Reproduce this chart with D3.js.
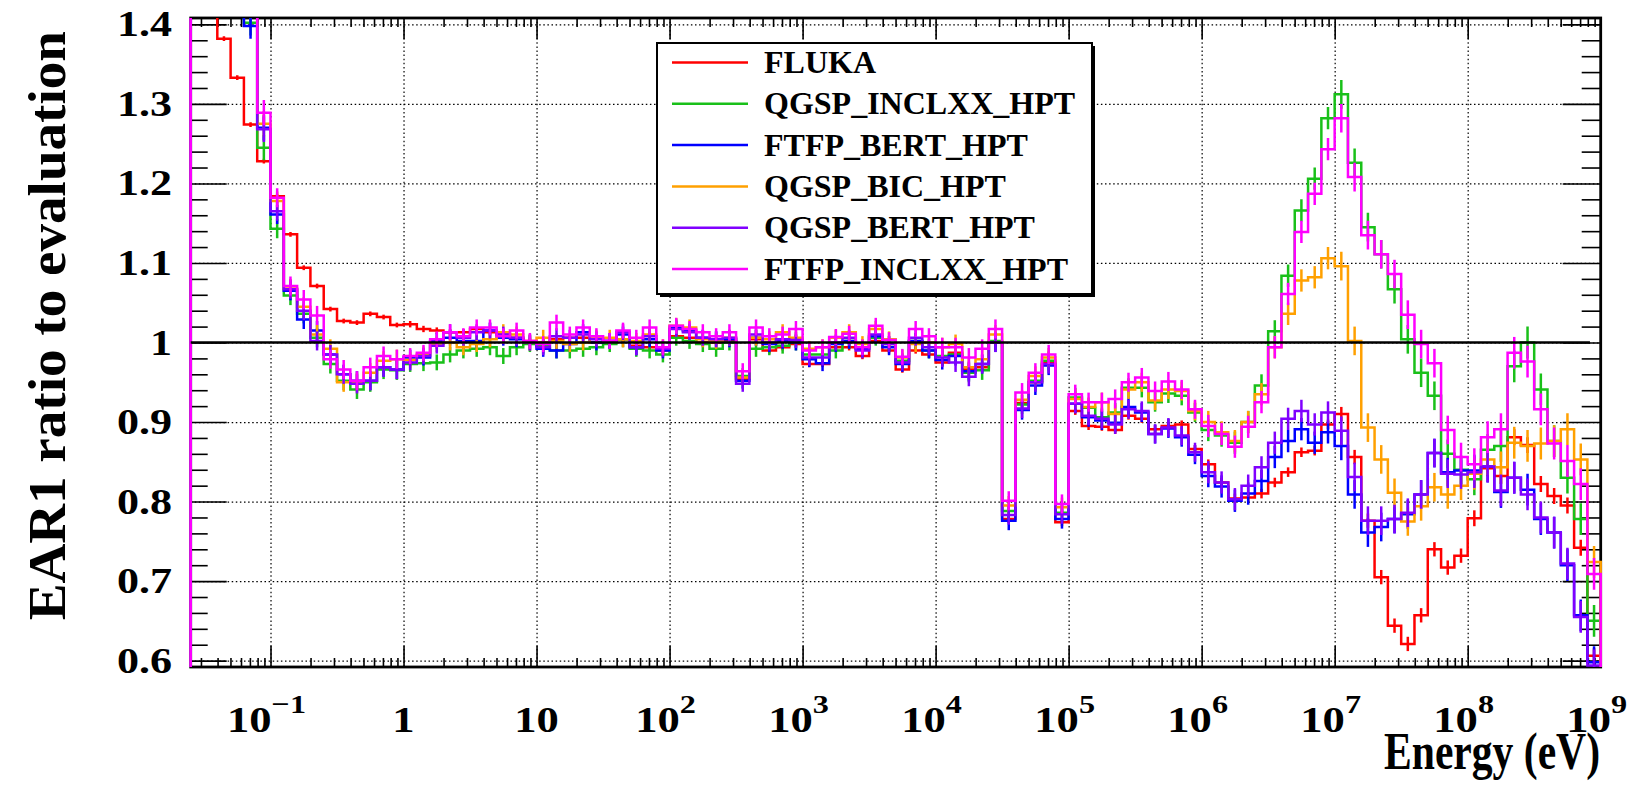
<!DOCTYPE html>
<html>
<head>
<meta charset="utf-8">
<script src="https://cdn.jsdelivr.net/npm/d3@7"></script>
<style>
  body { margin: 0; background: #fff; }
  svg text { font-family: "Liberation Serif", "Times New Roman", serif; font-weight: bold; fill: #000; }
</style>
</head>
<body>
<div id="chart"></div>
<script>
// ---- Data (ratio to evaluation, 10 log bins per decade from 10^-1.6 eV to 10^9 eV) ----
const firstEdgeLog = -1.6
const binsPerDecade = 10
const nBins = 106

// one line per decade: bins -1.6..-1.0, -1.0..0, 0..1, ... 8..9
const fluka = [
  1.45, 1.42, 1.382, 1.333, 1.274, 1.228,
  1.184, 1.136, 1.094, 1.071, 1.042, 1.027, 1.025, 1.036, 1.032, 1.022,
  1.023, 1.017, 1.015, 1.013, 1.013, 1.017, 1.013, 1.010, 1.006, 1.002,
  1.000, 1.004, 1.006, 1.006, 1.000, 1.002, 1.004, 0.996, 0.994, 0.990,
  1.008, 1.006, 1.000, 1.000, 1.002, 0.954, 1.004, 0.990, 0.994, 0.998,
  0.973, 0.973, 0.994, 0.994, 0.983, 1.002, 0.990, 0.966, 0.990, 0.985,
  0.975, 0.987, 0.966, 0.969, 1.000, 0.778, 0.924, 0.950, 0.975, 0.774,
  0.914, 0.895, 0.894, 0.890, 0.908, 0.904, 0.891, 0.895, 0.897, 0.866,
  0.847, 0.824, 0.804, 0.805, 0.810, 0.824, 0.837, 0.862, 0.864, 0.897,
  0.910, 0.856, 0.776, 0.705, 0.644, 0.621, 0.657, 0.740, 0.717, 0.732,
  0.779, 0.842, 0.832, 0.881, 0.871, 0.822, 0.807, 0.795, 0.742, 0.606
]
const qgspInclxx = [
  1.45, 1.45, 1.45, 1.45, 1.402, 1.245,
  1.143, 1.059, 1.036, 1.006, 0.973, 0.952, 0.941, 0.950, 0.966, 0.965,
  0.973, 0.974, 0.975, 0.985, 0.990, 0.992, 0.994, 0.983, 0.994, 0.998,
  0.996, 0.990, 0.990, 0.992, 0.994, 0.998, 1.004, 0.992, 0.990, 0.985,
  1.006, 1.002, 0.998, 0.992, 1.000, 0.958, 0.992, 0.994, 0.996, 1.000,
  0.985, 0.985, 0.990, 1.002, 0.994, 1.006, 0.998, 0.977, 1.002, 0.990,
  0.983, 0.985, 0.962, 0.965, 1.002, 0.788, 0.922, 0.952, 0.977, 0.786,
  0.931, 0.918, 0.906, 0.912, 0.943, 0.943, 0.925, 0.936, 0.933, 0.912,
  0.890, 0.883, 0.874, 0.900, 0.946, 1.014, 1.084, 1.166, 1.206, 1.282,
  1.312, 1.226, 1.145, 1.111, 1.067, 1.004, 0.962, 0.933, 0.860, 0.840,
  0.828, 0.865, 0.870, 0.970, 1.000, 0.941, 0.876, 0.830, 0.778, 0.650
]
const ftfpBert = [
  1.45, 1.45, 1.45, 1.45, 1.398, 1.270,
  1.161, 1.065, 1.029, 1.015, 0.985, 0.960, 0.952, 0.952, 0.969, 0.966,
  0.981, 0.981, 1.002, 1.006, 1.002, 1.002, 1.015, 1.006, 1.004, 1.000,
  0.992, 0.990, 0.998, 1.013, 1.000, 1.002, 1.010, 0.994, 1.004, 0.990,
  1.019, 1.015, 1.006, 1.004, 1.004, 0.952, 1.006, 0.998, 1.002, 1.000,
  0.979, 0.974, 0.998, 1.002, 0.992, 1.008, 0.994, 0.973, 1.002, 0.990,
  0.978, 0.983, 0.964, 0.973, 1.000, 0.776, 0.915, 0.946, 0.971, 0.778,
  0.923, 0.906, 0.902, 0.899, 0.919, 0.912, 0.885, 0.892, 0.881, 0.859,
  0.832, 0.819, 0.801, 0.810, 0.826, 0.856, 0.876, 0.891, 0.874, 0.887,
  0.870, 0.809, 0.761, 0.768, 0.778, 0.784, 0.809, 0.861, 0.837, 0.839,
  0.839, 0.844, 0.812, 0.830, 0.815, 0.778, 0.761, 0.720, 0.657, 0.598
]
const qgspBic = [
  1.45, 1.45, 1.45, 1.45, 1.45, 1.275,
  1.178, 1.068, 1.045, 1.010, 0.992, 0.950, 0.950, 0.962, 0.977, 0.979,
  0.978, 0.985, 0.998, 1.000, 0.994, 0.998, 1.004, 1.013, 1.010, 1.000,
  1.006, 1.002, 0.998, 1.000, 1.006, 1.006, 1.004, 1.002, 1.010, 0.994,
  1.021, 1.019, 1.004, 1.002, 1.006, 0.956, 1.006, 1.004, 1.013, 1.006,
  0.992, 0.994, 1.006, 1.013, 0.998, 1.017, 1.004, 0.981, 0.998, 1.000,
  0.994, 0.998, 0.969, 0.979, 1.010, 0.795, 0.928, 0.958, 0.981, 0.793,
  0.929, 0.919, 0.925, 0.910, 0.941, 0.950, 0.927, 0.941, 0.939, 0.914,
  0.900, 0.887, 0.876, 0.900, 0.935, 0.994, 1.036, 1.078, 1.082, 1.106,
  1.096, 1.002, 0.893, 0.853, 0.811, 0.775, 0.794, 0.818, 0.809, 0.820,
  0.835, 0.853, 0.843, 0.874, 0.870, 0.873, 0.876, 0.891, 0.853, 0.724
]
const qgspBert = [
  1.45, 1.45, 1.45, 1.45, 1.45, 1.268,
  1.165, 1.067, 1.040, 1.002, 0.985, 0.960, 0.948, 0.952, 0.969, 0.966,
  0.975, 0.983, 0.996, 1.013, 1.006, 1.013, 1.015, 1.010, 1.006, 1.000,
  0.994, 1.008, 1.006, 1.010, 1.004, 1.002, 1.013, 0.994, 1.008, 0.992,
  1.017, 1.013, 1.006, 1.004, 1.006, 0.948, 1.010, 1.000, 1.004, 1.003,
  0.981, 0.981, 1.000, 1.006, 0.990, 1.010, 0.998, 0.975, 1.006, 0.994,
  0.981, 0.975, 0.957, 0.973, 1.000, 0.783, 0.917, 0.950, 0.973, 0.784,
  0.923, 0.908, 0.904, 0.897, 0.916, 0.914, 0.885, 0.893, 0.883, 0.862,
  0.837, 0.824, 0.803, 0.820, 0.843, 0.874, 0.904, 0.914, 0.897, 0.912,
  0.889, 0.831, 0.776, 0.776, 0.778, 0.786, 0.809, 0.861, 0.835, 0.834,
  0.837, 0.844, 0.814, 0.830, 0.809, 0.780, 0.761, 0.722, 0.655, 0.594
]
const ftfpInclxx = [
  1.45, 1.45, 1.45, 1.45, 1.45, 1.289,
  1.182, 1.071, 1.054, 1.034, 0.979, 0.966, 0.952, 0.969, 0.983, 0.979,
  0.983, 0.987, 1.004, 1.013, 1.008, 1.019, 1.019, 1.008, 1.015, 1.002,
  0.998, 1.025, 1.010, 1.019, 1.008, 1.002, 1.015, 1.006, 1.019, 0.994,
  1.021, 1.017, 1.013, 1.008, 1.013, 0.964, 1.019, 1.008, 1.010, 1.017,
  0.990, 0.994, 1.007, 1.011, 0.994, 1.021, 1.003, 0.982, 1.017, 1.008,
  0.994, 0.994, 0.981, 0.992, 1.017, 0.801, 0.937, 0.962, 0.985, 0.797,
  0.935, 0.925, 0.925, 0.929, 0.950, 0.956, 0.939, 0.951, 0.941, 0.916,
  0.895, 0.885, 0.869, 0.894, 0.925, 0.994, 1.061, 1.139, 1.187, 1.243,
  1.282, 1.208, 1.135, 1.111, 1.086, 1.035, 0.998, 0.974, 0.890, 0.856,
  0.847, 0.881, 0.891, 0.987, 0.976, 0.916, 0.873, 0.851, 0.822, 0.709
]

// half-size of the error bars, one value per decade (10^-2 .. 10^8)
const errFlukaByDecade = [0.003, 0.003, 0.004, 0.004, 0.004, 0.004, 0.005, 0.005, 0.006, 0.009, 0.010]
const errG4ByDecade = [0.016, 0.012, 0.010, 0.010, 0.010, 0.010, 0.012, 0.012, 0.014, 0.018, 0.020]

const seriesNames = ['FLUKA', 'QGSP_INCLXX_HPT', 'FTFP_BERT_HPT', 'QGSP_BIC_HPT', 'QGSP_BERT_HPT', 'FTFP_INCLXX_HPT']
const seriesColors = ['#ff0000', '#19c019', '#0000ff', '#ffa000', '#8000ff', '#ff00ff']
const seriesValues = [fluka, qgspInclxx, ftfpBert, qgspBic, qgspBert, ftfpInclxx]

const yTicks = [0.6, 0.7, 0.8, 0.9, 1, 1.1, 1.2, 1.3, 1.4]
const yTickLabels = ['0.6', '0.7', '0.8', '0.9', '1', '1.1', '1.2', '1.3', '1.4']
const xDecades = [-1, 0, 1, 2, 3, 4, 5, 6, 7, 8, 9]

// ---- Layout ----
const width = 1631, height = 788
const frame = { left: 190.7, right: 1600.7, top: 18, bottom: 667 }

const svg = d3.select('#chart').append('svg')
  .attr('width', width).attr('height', height)

const x = d3.scaleLog()
  .domain([Math.pow(10, firstEdgeLog), 1e9])
  .range([frame.left, frame.right])
const y = d3.scaleLinear()
  .domain([0.592, 1.408])
  .range([frame.bottom, frame.top])

const edge = i => Math.pow(10, firstEdgeLog + i / binsPerDecade)
const center = i => Math.pow(10, firstEdgeLog + (i + 0.5) / binsPerDecade)
const decadeIdx = i => Math.floor(firstEdgeLog + i / binsPerDecade + 1e-9) + 2

// grid (dotted)
const grid = svg.append('g').attr('class', 'grid')
grid.append('g')
  .attr('transform', `translate(0,${frame.bottom})`)
  .call(d3.axisBottom(x).tickValues(xDecades.slice(0, -1).map(d => Math.pow(10, d)))
    .tickSize(-(frame.bottom - frame.top)).tickFormat(''))
grid.append('g')
  .attr('transform', `translate(${frame.left},0)`)
  .call(d3.axisLeft(y).tickValues(yTicks)
    .tickSize(-(frame.right - frame.left)).tickFormat(''))
grid.selectAll('.domain').remove()
grid.selectAll('line')
  .attr('stroke', '#000').attr('stroke-width', 1.2)
  .attr('stroke-dasharray', '1.5,2.6')

// tick marks on all four sides, pointing inward
const minorX = []
d3.range(-2, 9).forEach(d => d3.range(2, 10).forEach(m => {
  const v = m * Math.pow(10, d)
  if (v > x.domain()[0] && v < x.domain()[1]) minorX.push(v)
}))
const majorX = xDecades.map(d => Math.pow(10, d)).filter(v => v < 1e9)
const minorY = d3.range(0.6, 1.4001, 0.02).filter(v => Math.abs(v * 10 - Math.round(v * 10)) > 1e-6)

const ticks = svg.append('g').attr('class', 'ticks')
function tickGroup(axis, tx, ty) {
  ticks.append('g').attr('transform', `translate(${tx},${ty})`).call(axis)
}
tickGroup(d3.axisBottom(x).tickValues(majorX).tickSize(-21).tickFormat(''), 0, frame.bottom)
tickGroup(d3.axisBottom(x).tickValues(minorX).tickSize(-9).tickFormat(''), 0, frame.bottom)
tickGroup(d3.axisTop(x).tickValues(majorX).tickSize(-21).tickFormat(''), 0, frame.top)
tickGroup(d3.axisTop(x).tickValues(minorX).tickSize(-9).tickFormat(''), 0, frame.top)
tickGroup(d3.axisLeft(y).tickValues(yTicks).tickSize(-36).tickFormat(''), frame.left, 0)
tickGroup(d3.axisLeft(y).tickValues(minorY).tickSize(-17).tickFormat(''), frame.left, 0)
tickGroup(d3.axisRight(y).tickValues(yTicks).tickSize(-38).tickFormat(''), frame.right, 0)
tickGroup(d3.axisRight(y).tickValues(minorY).tickSize(-19).tickFormat(''), frame.right, 0)
ticks.selectAll('.domain').remove()
ticks.selectAll('line').attr('stroke', '#000').attr('stroke-width', 1.6)

// frame
svg.append('rect')
  .attr('x', frame.left).attr('y', frame.top)
  .attr('width', frame.right - frame.left).attr('height', frame.bottom - frame.top)
  .attr('fill', 'none').attr('stroke', '#000').attr('stroke-width', 2.8)

// histograms
svg.append('clipPath').attr('id', 'clip')
  .append('rect')
  .attr('x', frame.left - 3).attr('y', frame.top)
  .attr('width', frame.right - frame.left + 6).attr('height', frame.bottom - frame.top)

const plot = svg.append('g').attr('clip-path', 'url(#clip)')
const line = d3.line().x(d => x(d[0])).y(d => y(d[1]))
const baseline = 0

seriesValues.forEach((vals, s) => {
  const pts = [[edge(0), baseline]]
  vals.forEach((v, i) => { pts.push([edge(i), v]); pts.push([edge(i + 1), v]) })
  pts.push([edge(nBins), baseline])
  const g = plot.append('g')
  g.append('path')
    .datum(pts)
    .attr('d', line)
    .attr('fill', 'none')
    .attr('stroke', seriesColors[s])
    .attr('stroke-width', 2.5)
    .attr('stroke-linejoin', 'miter')
  const errs = s === 0 ? errFlukaByDecade : errG4ByDecade
  g.selectAll('line.err')
    .data(vals)
    .join('line')
    .attr('class', 'err')
    .attr('x1', (v, i) => x(center(i))).attr('x2', (v, i) => x(center(i)))
    .attr('y1', (v, i) => y(v - errs[decadeIdx(i)]))
    .attr('y2', (v, i) => y(v + errs[decadeIdx(i)]))
    .attr('stroke', seriesColors[s])
    .attr('stroke-width', 2.5)
})

// reference line at ratio 1
svg.append('line')
  .attr('x1', x(x.domain()[0])).attr('x2', x(8.3e8))
  .attr('y1', y(1)).attr('y2', y(1))
  .attr('stroke', '#000').attr('stroke-width', 2.6)

// y tick labels (wide bold serif, as in the original)
svg.append('g').selectAll('text')
  .data(yTicks)
  .join('text')
  .attr('transform', d => `translate(172,${y(d) + 12})scale(1.26,1)`)
  .attr('text-anchor', 'end')
  .attr('font-size', 35)
  .text((d, i) => yTickLabels[i])

// x tick labels (powers of ten)
const xl = svg.append('g').selectAll('text')
  .data(xDecades)
  .join('text')
  .attr('transform', d => `translate(${x(Math.pow(10, d)) - (d > 1 || d < 0 ? 4 : 0)},732)scale(1.24,1)`)
  .attr('text-anchor', 'middle')
  .attr('font-size', 36)
xl.each(function (d) {
  const t = d3.select(this)
  if (d === 0) { t.text('1'); return }
  if (d === 1) { t.text('10'); return }
  t.append('tspan').text('10')
  t.append('tspan').attr('font-size', 26).attr('dy', -19).text(d < 0 ? '\u2212' + (-d) : d)
})

// axis titles
svg.append('text')
  .attr('transform', 'translate(1600,769)scale(0.8,1)')
  .attr('text-anchor', 'end')
  .attr('font-size', 52)
  .text('Energy (eV)')

svg.append('text')
  .attr('transform', 'translate(65,31)rotate(-90)scale(1.04,1)')
  .attr('text-anchor', 'end')
  .attr('font-size', 53)
  .text('EAR1 ratio to evaluation')

// legend
const legend = svg.append('g')
const lg = { x: 657, y: 43, w: 435, h: 251 }
legend.append('rect')
  .attr('x', lg.x + 3).attr('y', lg.y + 3).attr('width', lg.w).attr('height', lg.h)
  .attr('fill', '#000')
legend.append('rect')
  .attr('x', lg.x).attr('y', lg.y).attr('width', lg.w).attr('height', lg.h)
  .attr('fill', '#fff').attr('stroke', '#000').attr('stroke-width', 2)
seriesNames.forEach((name, i) => {
  const cy = 62.5 + i * 41.3
  legend.append('line')
    .attr('x1', 672).attr('x2', 748).attr('y1', cy).attr('y2', cy)
    .attr('stroke', seriesColors[i]).attr('stroke-width', 2.5)
  legend.append('text')
    .attr('x', 764).attr('y', cy + 10.5)
    .attr('font-size', 32)
    .text(name)
})
</script>
</body>
</html>
